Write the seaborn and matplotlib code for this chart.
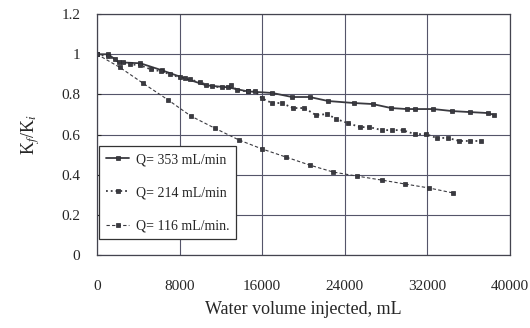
"""plot.py

Recreates the permeability ratio vs injected water volume chart.
"""

import matplotlib.pyplot as plt
import pandas as pd
import seaborn as sns

# Q = 353 mL/min
vol_353 = [0, 1100, 2100, 4200, 6300, 8500, 10600, 12700, 14600, 17000, 18900, 20600,
           22400, 24900, 26700, 28500, 30000, 30800, 32600, 34400, 36100, 37900, 38500]
k_353 = [1.0, 1.0, 0.96, 0.955, 0.92, 0.88, 0.845, 0.835, 0.815, 0.807, 0.787, 0.787,
         0.767, 0.757, 0.752, 0.732, 0.727, 0.727, 0.727, 0.717, 0.712, 0.707, 0.697]

# Q = 214 mL/min
vol_214 = [0, 1100, 1700, 2500, 3200, 4200, 5200, 6200, 7100, 8000, 9000, 10000, 11100,
           12100, 13000, 13600, 14600, 15300, 16000, 16950, 17900, 19000, 20100, 21200,
           22300, 23200, 24300, 25500, 26400, 27600, 28600, 29600, 30800, 31900, 32900,
           34000, 35100, 36100, 37200]
k_214 = [1.0, 0.99, 0.975, 0.96, 0.95, 0.945, 0.925, 0.915, 0.9, 0.885, 0.875, 0.86, 0.84,
         0.835, 0.845, 0.82, 0.815, 0.815, 0.78, 0.757, 0.757, 0.732, 0.732, 0.697,
         0.702, 0.677, 0.657, 0.637, 0.637, 0.622, 0.622, 0.622, 0.602, 0.602, 0.583,
         0.583, 0.568, 0.568, 0.568]

# Q = 116 mL/min
vol_116 = [0, 2200, 4450, 6900, 9100, 11400, 13750, 16000, 18300, 20600, 22900, 25200,
           27600, 29800, 32150, 34500]
k_116 = [1.0, 0.935, 0.856, 0.772, 0.692, 0.632, 0.573, 0.528, 0.488, 0.448, 0.413,
         0.393, 0.373, 0.354, 0.334, 0.309]

x_ticks = [0, 8000, 16000, 24000, 32000, 40000]
y_ticks = [0, 0.2, 0.4, 0.6, 0.8, 1.0, 1.2]
y_tick_labels = ['0', '0.2', '0.4', '0.6', '0.8', '1', '1.2']

sns.set_style('white')
plt.rcParams['font.family'] = ['Liberation Serif', 'DejaVu Serif']
plt.rcParams['mathtext.fontset'] = 'stix'

fig = plt.figure(figsize=(5.3, 3.28), dpi=100)
ax = fig.add_axes([0.183, 0.2226, 0.779, 0.7344])

line_colour = '#3a3a40'
series = [
    (vol_353, k_353, 'Q= 353 mL/min', '-', 1.3),
    (vol_214, k_214, 'Q= 214 mL/min', ':', 1.3),
    (vol_116, k_116, 'Q= 116 mL/min.', (0, (3, 2)), 0.8),
]
for vol, k, label, ls, lw in series:
    data = pd.DataFrame({'vol': vol, 'k': k})
    sns.lineplot(data=data, x='vol', y='k', ax=ax, color=line_colour, linestyle=ls,
                 linewidth=lw, marker='s', markersize=3.2, markeredgewidth=0.5,
                 markeredgecolor='#2a2a30', label=label)

ax.set_xlim(0, 40000)
ax.set_ylim(0, 1.2)
ax.set_xticks(x_ticks)
ax.set_yticks(y_ticks)
ax.set_yticklabels(y_tick_labels)
ax.tick_params(axis='x', labelsize=11, pad=18, length=0)
ax.tick_params(axis='y', labelsize=11, pad=12, length=3, direction='in', left=True)
ax.grid(True, color='#55556a', linewidth=0.8)
for spine in ax.spines.values():
    spine.set_color('#44444f')
    spine.set_linewidth(0.9)

ax.set_xlabel('Water volume injected, mL', fontsize=13, labelpad=6)
ax.set_ylabel(r'K$_f$/K$_i$', fontsize=13, labelpad=14)

leg = ax.legend(loc='lower left', bbox_to_anchor=(0.006, 0.065), borderaxespad=0,
                fontsize=10, frameon=True, fancybox=False, edgecolor='#333333',
                framealpha=1, labelspacing=1.45, handlelength=1.6, borderpad=0.5,
                handletextpad=0.5)
leg.get_frame().set_linewidth(0.9)

fig.savefig('out.png', dpi=100)
